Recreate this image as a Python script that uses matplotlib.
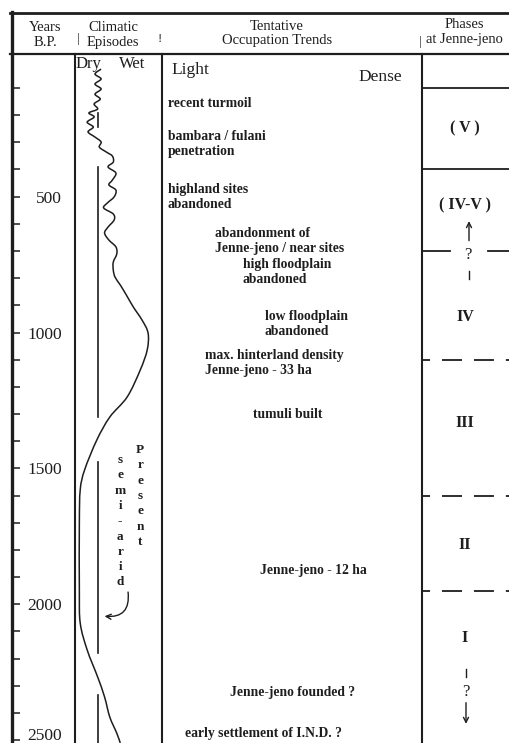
"""
Occupation trends and climatic episodes at Jenne-jeno, redrawn as a chart.
"""
import matplotlib.pyplot as plt
from matplotlib.path import Path
from matplotlib.patches import PathPatch
plt.switch_backend("agg")

plt.rcParams['font.family'] = ['Liberation Serif', 'DejaVu Serif']
plt.rcParams['lines.scale_dashes'] = False

W, H = 509, 743          # output size, px
INK = '#1e1e1e'

# vertical calibration of the scan: year 0 B.P. at 60.7 px, 0.2718 px per year
Y0_PX = 60.7
PX_PER_YR = 0.2718
YR_TOP = -Y0_PX / PX_PER_YR
YR_BOT = (H - Y0_PX) / PX_PER_YR

# climatic curve: years B.P. and wetness index (0 = dry edge, 10 = wet edge)
clim_years = [31, 49, 67, 86, 104, 123, 141, 159, 178, 192, 207, 226, 244,
              262, 281, 299, 318, 336, 351, 373, 391, 413, 439, 457, 476,
              501, 524, 542, 564, 586, 612, 634, 660, 685, 711, 741, 770,
              796, 825, 862, 906, 954, 1002, 1064, 1138, 1237, 1311, 1396,
              1506, 1579, 1701, 1947, 2069, 2168, 2267, 2341, 2415, 2474,
              2510]
clim_wet = [3.0, 2.3, 3.0, 2.3, 3.0, 2.3, 2.9, 2.2, 2.6, 1.6, 2.2, 1.4, 2.1,
            1.5, 2.3, 3.0, 2.8, 3.6, 4.3, 4.4, 3.8, 4.7, 4.3, 3.9, 4.7,
            4.5, 3.7, 3.3, 4.4, 4.5, 3.8, 3.4, 3.9, 4.7, 4.8, 4.4, 4.4,
            4.6, 5.2, 5.9, 6.7, 7.7, 8.4, 8.3, 7.5, 6.0, 4.0, 2.5,
            1.1, 0.6, 0.5, 0.5, 0.6, 1.4, 2.6, 3.4, 4.0, 4.8,
            5.2]

# present-day (semi-arid) reference level, drawn as broken segments
present_wet = 2.7
present_spans = [(192, 244), (391, 1311), (1476, 2179), (2334, 2510)]

# tentative occupation trends
occ_years = [156, 307, 500, 663, 776, 970, 1114, 1303, 1874, 2326, 2474]
occ_labels = ['recent turmoil',
              'bambara / fulani\npenetration',
              'highland sites\nabandoned',
              'abandonment of\nJenne-jeno / near sites',
              'high floodplain\nabandoned',
              'low floodplain\nabandoned',
              'max. hinterland density\nJenne-jeno - 33 ha',
              'tumuli built',
              'Jenne-jeno - 12 ha',
              'Jenne-jeno founded ?',
              'early settlement of I.N.D. ?']
occ_indent = [168, 168, 168, 215, 243, 265, 205, 253, 260, 230, 185]

# phases at Jenne-jeno
phase_bounds = [100, 400, 700, 1100, 1600, 1950]
phase_solid = [True, True, None, False, False, False]   # None: broken by "?"
phase_labels = ['( V )', '( IV-V )', 'IV', 'III', 'II', 'I']
phase_label_years = [248, 531, 942, 1333, 1782, 2124]


def px2yr(y_px):
    return (y_px - Y0_PX) / PX_PER_YR


def smooth_path(xs, ys):
    # cubic bezier (catmull-rom) passing through every read point
    pts = list(zip(xs, ys))
    verts = [pts[0]]
    codes = [Path.MOVETO]
    for i in range(len(pts) - 1):
        p0 = pts[max(i - 1, 0)]
        p1, p2 = pts[i], pts[i + 1]
        p3 = pts[min(i + 2, len(pts) - 1)]
        c1 = (p1[0] + (p2[0] - p0[0]) / 6, p1[1] + (p2[1] - p0[1]) / 6)
        c2 = (p2[0] - (p3[0] - p1[0]) / 6, p2[1] - (p3[1] - p1[1]) / 6)
        verts += [c1, c2, p2]
        codes += [Path.CURVE4] * 3
    return Path(verts, codes)


def main():
    fig = plt.figure(figsize=(W / 100, H / 100), dpi=100)

    # frame / header, in pixel coordinates
    fax = fig.add_axes([0, 0, 1, 1])
    fax.set_xlim(0, W)
    fax.set_ylim(H, 0)
    fax.axis('off')

    fax.plot([10, W], [12.5, 12.5], color=INK, lw=2.0)
    fax.plot([10, W], [53.5, 53.5], color=INK, lw=1.6)
    for x in (75, 162, 422):
        fax.plot([x, x], [53.5, H], color=INK, lw=1.5)

    hdr = dict(ha='center', va='center', fontsize=10.5, color=INK,
               linespacing=1.15)
    fax.text(45, 35, 'Years\nB.P.', **hdr)
    fax.text(113, 35, 'Climatic\nEpisodes', **hdr)
    fax.text(277, 33.5, 'Tentative\nOccupation Trends', **hdr)
    fax.text(464, 32, 'Phases\nat Jenne-jeno', **hdr)
    fax.text(78, 39, '|', ha='center', va='center', fontsize=9, color=INK)
    fax.text(160, 39, '!', ha='center', va='center', fontsize=9, color=INK)
    fax.text(420, 42, '|', ha='center', va='center', fontsize=9, color=INK)

    fax.text(76, 64, 'Dry', ha='left', va='center', fontsize=12, color=INK)
    fax.text(119, 64, 'Wet', ha='left', va='center', fontsize=12, color=INK)
    fax.text(171, 70, 'Light', ha='left', va='center', fontsize=12.5,
             color=INK)
    fax.text(358, 77, 'Dense', ha='left', va='center', fontsize=12.5,
             color=INK)

    # year scale on the left border
    yax = fig.add_axes([11.5 / W, 0, 40 / W, 1])
    yax.patch.set_visible(False)
    yax.set_ylim(YR_BOT, YR_TOP)
    for s in ('top', 'right', 'bottom'):
        yax.spines[s].set_visible(False)
    yax.spines['left'].set_linewidth(2.4)
    yax.spines['left'].set_color(INK)
    yax.spines['left'].set_bounds(YR_BOT, px2yr(11.5))
    yax.set_xticks([])
    yax.set_yticks(range(500, 2501, 500))
    yax.set_yticks([y for y in range(100, 2500, 100) if y % 500],
                   minor=True)
    yax.tick_params(axis='y', which='both', direction='in', length=5.8,
                    width=1.1, color=INK, labelcolor=INK, labelsize=12.5,
                    pad=-36.4)
    # bottom label sits on its tick so that it stays inside the page
    yax.get_yticklabels()[-1].set_verticalalignment('baseline')

    # climatic episodes column
    cax = fig.add_axes([75 / W, 0, 87 / W, 1])
    cax.patch.set_visible(False)
    cax.set_xlim(0, 10)
    cax.set_ylim(YR_BOT, YR_TOP)
    cax.axis('off')
    cax.add_patch(PathPatch(smooth_path(clim_wet, clim_years), fill=False,
                            edgecolor=INK, lw=1.1))
    for y0, y1 in present_spans:
        cax.plot([present_wet, present_wet], [y0, y1], color=INK, lw=1.2)

    step = 15.3 / PX_PER_YR
    for i, ch in enumerate('semi-arid'):
        cax.text(5.2, px2yr(460) + i * step, ch, ha='center', va='center',
                 fontsize=9.5, fontweight='bold', color=INK)
    for i, ch in enumerate('Present'):
        cax.text(7.5, px2yr(450) + i * step, ch, ha='center', va='center',
                 fontsize=9.5, fontweight='bold', color=INK)
    cax.annotate('', xy=(3.4, 2044), xytext=(6.1, 1955),
                 arrowprops=dict(arrowstyle='->', lw=1.0, color=INK,
                                 connectionstyle='arc3,rad=-0.6',
                                 shrinkA=0, shrinkB=0, mutation_scale=9))

    # occupation trends and phases, x in px, y in years B.P.
    dax = fig.add_axes([0, 0, 1, 1])
    dax.patch.set_visible(False)
    dax.set_xlim(0, W)
    dax.set_ylim(YR_BOT, YR_TOP)
    dax.axis('off')

    for yr, lab, x in zip(occ_years, occ_labels, occ_indent):
        dax.text(x, yr, lab, ha='left', va='center', fontsize=9.8,
                 fontweight='bold', color=INK, linespacing=1.2)

    for yr, solid in zip(phase_bounds, phase_solid):
        if solid:
            dax.plot([422, W], [yr, yr], color=INK, lw=1.3)
        elif solid is None:
            dax.plot([422, 450], [yr, yr], color=INK, lw=1.3)
            dax.plot([488, W], [yr, yr], color=INK, lw=1.3)
        else:
            dax.plot([422, W], [yr, yr], color=INK, lw=1.3,
                     linestyle=(8.6, (14.4, 8.6)))

    for yr, lab in zip(phase_label_years, phase_labels):
        dax.text(465, yr, lab, ha='center', va='center', fontsize=11.5,
                 fontweight='bold', color=INK)

    # uncertain boundaries in the phase column
    arrow = dict(arrowstyle='->', lw=1.0, color=INK, shrinkA=0, shrinkB=0,
                 mutation_scale=9)
    dax.annotate('', xy=(469, 590), xytext=(469, 662), arrowprops=arrow)
    dax.text(468, 716, '?', ha='center', va='center', fontsize=12,
             color=INK)
    dax.plot([469, 469], [775, 805], color=INK, lw=1.0)
    dax.plot([466, 466], [2238, 2266], color=INK, lw=1.0)
    dax.text(466, 2323, '?', ha='center', va='center', fontsize=12,
             color=INK)
    dax.annotate('', xy=(466, 2440), xytext=(466, 2362), arrowprops=arrow)

    fig.savefig('out.png', dpi=100, facecolor='white')
    plt.close(fig)


if __name__ == '__main__':
    main()
